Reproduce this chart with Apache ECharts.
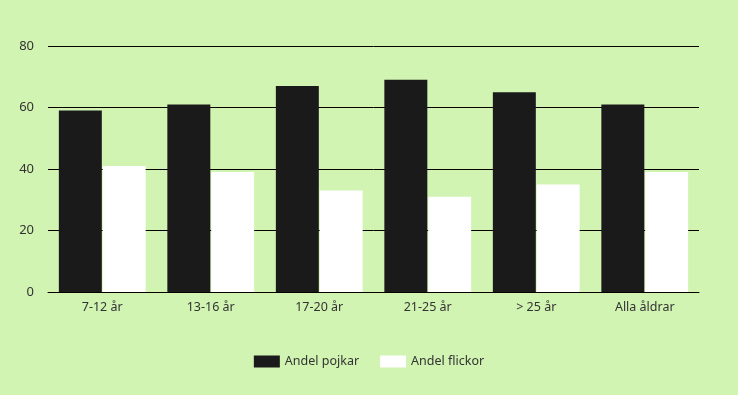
<!DOCTYPE html>
<html><head><meta charset="utf-8">
<script src="https://cdn.jsdelivr.net/npm/echarts@6/dist/echarts.min.js"></script>
<style>html,body{margin:0;padding:0;background:#d1f4b2}#c{width:738px;height:395px}</style>
</head><body><div id="c"></div>
<script>
const categories = ['7-12 år', '13-16 år', '17-20 år', '21-25 år', '> 25 år', 'Alla åldrar'];
const pojkar = [59, 61, 67, 69, 65, 61];
const flickor = [41, 39, 33, 31, 35, 39];
const seriesNames = ['Andel pojkar', 'Andel flickor'];
const yTicks = [0, 20, 40, 60, 80];

const font = '"Noto Sans", Lato, sans-serif';
const chart = echarts.init(document.getElementById('c'), null, {renderer: 'canvas'});
chart.setOption({
  backgroundColor: '#d1f4b2',
  animation: false,
  textStyle: {fontFamily: font},
  grid: {left: 48, right: 39, top: 46, bottom: 103, containLabel: false},
  legend: {
    left: 'center', top: 350, itemWidth: 26, itemHeight: 12, itemGap: 21, icon: 'rect',
    textStyle: {color: '#333', fontSize: 12.5, fontFamily: font},
    data: seriesNames
  },
  xAxis: {
    type: 'category', data: categories,
    axisLine: {lineStyle: {color: '#000', width: 1}},
    axisTick: {show: false},
    axisLabel: {color: '#333', fontSize: 12.5, margin: 9, fontFamily: font}
  },
  yAxis: {
    type: 'value', min: yTicks[0], max: yTicks[yTicks.length - 1], interval: 20,
    axisLine: {show: false}, axisTick: {show: false},
    splitLine: {lineStyle: {color: '#000', width: 1}},
    axisLabel: {color: '#333', fontSize: 13, margin: 14, fontFamily: font}
  },
  series: [
    {name: seriesNames[0], type: 'bar', data: pojkar, itemStyle: {color: '#1a1a1a'}, barGap: '2%', barCategoryGap: '20%'},
    {name: seriesNames[1], type: 'bar', data: flickor, itemStyle: {color: '#ffffff'}}
  ]
});
</script></body></html>
